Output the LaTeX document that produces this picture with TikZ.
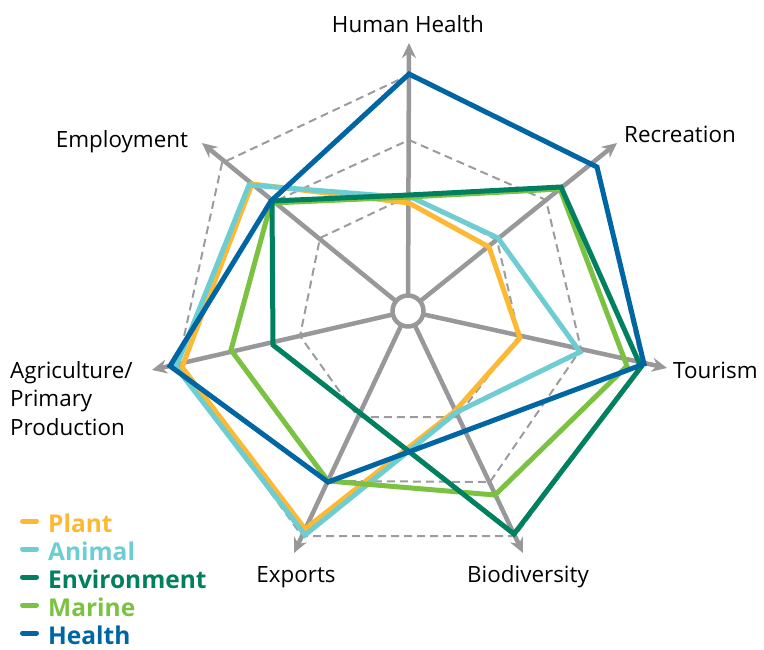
\documentclass[tikz,border=0pt]{standalone}
\usepackage{fontspec}
\setmainfont{Open Sans}
\usetikzlibrary{arrows.meta}
\definecolor{cplant}{HTML}{FDB933}
\definecolor{canimal}{HTML}{6ECDD3}
\definecolor{cenv}{HTML}{00805E}
\definecolor{cmarine}{HTML}{7CC242}
\definecolor{chealth}{HTML}{0066A3}
\definecolor{caxis}{HTML}{98989B}
\definecolor{cgrid}{HTML}{9C9C9E}
\begin{document}
\begin{tikzpicture}[x=1pt,y=-1pt,
  axisline/.style={draw=caxis,line width=4.5pt,-{Stealth[length=15pt,width=14pt,inset=5pt]}},
  gridline/.style={draw=cgrid,line width=2pt,dash pattern=on 8pt off 5pt},
  series/.style={line width=5pt,line join=miter},
  lab/.style={font=\fontsize{22.4}{28.5}\selectfont,inner sep=0pt},
  leg/.style={font=\fontsize{24.5}{29}\selectfont\bfseries,inner sep=0pt,anchor=base west},
  legline/.style={line width=5pt,line cap=round}]
\useasboundingbox (0,0) rectangle (764,650);
% centre and axis tips
\coordinate (C) at (408,311);
\coordinate (tHH) at (409,43);
\coordinate (tRec) at (617,143);
\coordinate (tTour) at (667,368);
\coordinate (tBio) at (523,553);
\coordinate (tExp) at (294,553);
\coordinate (tAgr) at (152,370);
\coordinate (tEmp) at (202,143);
% grid
\draw[gridline] (409,196) -- (497,240) -- (519,336) -- (457,417) -- (358,417) -- (300,336) -- (320,238) -- cycle;
\draw[gridline] (409,140) -- (546,200) -- (581,349) -- (490,482) -- (328,481) -- (231,350) -- (271,203) -- cycle;
\draw[gridline] (409,75) -- (596,166) -- (642,364) -- (515,536) -- (302,536) -- (178,364) -- (222,163) -- cycle;
% axes
\foreach \t in {tHH,tRec,tTour,tBio,tExp,tAgr,tEmp}
  \draw[axisline] (C) -- (\t);
\node[circle,draw=caxis,fill=white,line width=4.5pt,minimum size=31pt,inner sep=0pt] (hub) at (C) {};
% series
\draw[series,draw=cplant] (409,203) -- (489,247) -- (520,338) -- (455,411) -- (305,529) -- (182,367) -- (252,184) -- cycle;
\draw[series,draw=canimal] (413,198) -- (498,238) -- (580,352) -- (457,412) -- (305,535) -- (176,367) -- (249,185) -- cycle;
\draw[series,draw=cmarine] (409,197) -- (560,189) -- (627,366) -- (495,495) -- (328,481) -- (231,350) -- (271,203) -- cycle;
\draw[series,draw=cenv] (409,195) -- (561,187) -- (641,367) -- (514,534) -- (360,413) -- (273,345) -- (272,201) -- cycle;
\draw[series,draw=chealth] (409,74) -- (597,167) -- (644,364) -- (465,431) -- (328,482) -- (170,366) -- (271,201) -- cycle;
% labels
\node[lab,anchor=base] (lHH) at (408,33) {Human Health};
\node[lab,anchor=base west] (lRec) at (624,143) {Recreation};
\node[lab,anchor=base west] (lTour) at (673,378) {Tourism};
\node[lab,anchor=base] (lBio) at (528,582) {Biodiversity};
\node[lab,anchor=base] (lExp) at (296,582) {Exports};
\node[lab,anchor=base] (lEmp) at (122,148) {Employment};
\node[lab,anchor=base west,align=left] (lAgr) at (10,435) {Agriculture/\\Primary\\Production};
% legend
\foreach \c/\txt/\y [count=\i] in {cplant/Plant/532,canimal/Animal/560,cenv/Environment/588,cmarine/Marine/616,chealth/Health/644}{
  \coordinate (la\i) at (22.5,\y-11);
  \coordinate (lb\i) at (36.5,\y-11);
  \draw[legline,draw=\c] (la\i) -- (lb\i);
  \node[leg,text=\c] (lt\i) at (48,\y) {\txt};
}
\end{tikzpicture}
\end{document}
